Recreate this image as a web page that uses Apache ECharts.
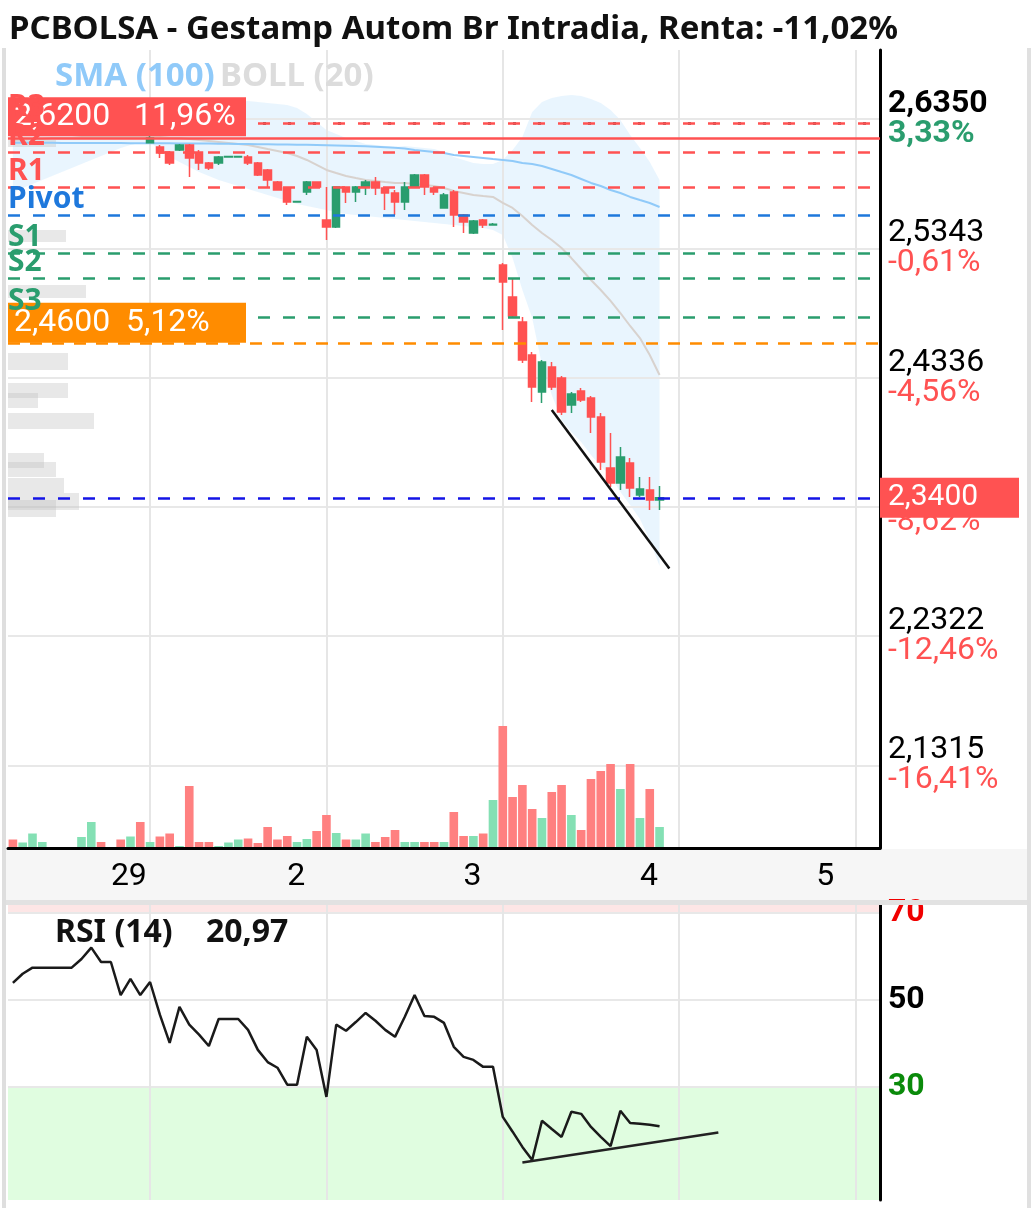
<!DOCTYPE html>
<html><head><meta charset="utf-8">
<script src="https://cdn.jsdelivr.net/npm/echarts@6/dist/echarts.min.js"></script>
<style>html,body{margin:0;padding:0;background:#fff}#c{width:1034px;height:1208px}</style>
</head><body><div id="c"></div>
<script>
// ---------- DATA ----------
const days = ['28','29','2','3','4','5'];
const sessionTimes = ['09:00','09:30','10:00','10:30','11:00','11:30','12:00','12:30','13:00','13:30','14:00','14:30','15:00','15:30','16:00','16:30','17:00','17:30'];
const firstVisibleSession = 4;   // first slot of day '28' shown
const lastDaySlotsShown = 3;     // slots of day '5' shown

// candles: [open, close, low, high]
const candles = [
 [2.628,2.626,2.625,2.629],[2.626,2.627,2.6255,2.628],[2.627,2.629,2.626,2.630],[2.629,2.6295,2.628,2.630],
 [2.6295,2.6295,2.6295,2.6295],[2.6295,2.6295,2.6295,2.6295],[2.6295,2.6295,2.6295,2.6295],
 [2.6295,2.6305,2.629,2.631],[2.6305,2.632,2.630,2.633],[2.632,2.6305,2.630,2.632],[2.6305,2.6305,2.6305,2.6305],
 [2.6305,2.6255,2.625,2.631],[2.6255,2.6275,2.625,2.628],[2.6275,2.6228,2.6225,2.628],
 [2.6165,2.6202,2.6160,2.6218],[2.6132,2.6085,2.6046,2.6147],[2.6093,2.6007,2.5992,2.6101],[2.6109,2.6147,2.6101,2.6155],
 [2.6147,2.6046,2.5898,2.6155],[2.6093,2.6007,2.5953,2.6109],[2.6007,2.5968,2.5953,2.6015],[2.6007,2.6054,2.5992,2.6062],
 [2.6054,2.6058,2.6050,2.6062],[2.6054,2.6058,2.6050,2.6062],[2.6054,2.6007,2.5992,2.6070],[2.6007,2.5914,2.5906,2.6015],
 [2.5953,2.5875,2.5813,2.5960],[2.5859,2.5797,2.5797,2.5867],[2.5813,2.5704,2.5680,2.5820],[2.5704,2.5708,2.5700,2.5712],
 [2.5781,2.5859,2.5758,2.5867],[2.5859,2.5820,2.5813,2.5859],
 [2.5563,2.5509,2.5408,2.5820],[2.5509,2.5820,2.5501,2.5820],[2.5820,2.5781,2.5696,2.5820],[2.5781,2.5820,2.5704,2.5828],
 [2.5820,2.5859,2.5758,2.5875],[2.5859,2.5813,2.5758,2.5898],[2.5813,2.5774,2.5641,2.5820],[2.5774,2.5704,2.5602,2.5797],
 [2.5704,2.5820,2.5641,2.5859],[2.5820,2.5914,2.5813,2.5922],[2.5914,2.5820,2.5758,2.5922],[2.5813,2.5781,2.5758,2.5820],
 [2.5657,2.5758,2.5657,2.5774],[2.5781,2.5602,2.5509,2.5797],[2.5602,2.5548,2.5462,2.5610],[2.5462,2.5555,2.5454,2.5563],
 [2.5563,2.5525,2.5501,2.5571],[2.5525,2.5530,2.5520,2.5540],
 [2.5213,2.5080,2.4707,2.5229],[2.4963,2.4816,2.4800,2.5112],[2.4769,2.4473,2.4450,2.4808],[2.4512,2.4263,2.4146,2.4535],
 [2.4224,2.4457,2.4138,2.4473],[2.4419,2.4263,2.4240,2.4457],[2.4333,2.4068,2.4045,2.4348],[2.4123,2.4208,2.4060,2.4224],
 [2.4232,2.4161,2.4146,2.4255],[2.4177,2.4029,2.3904,2.4193],[2.4029,2.3679,2.3617,2.4060],[2.3632,2.3515,2.3484,2.3904],
 [2.3515,2.3718,2.3461,2.3795],[2.3671,2.3476,2.3406,2.3710],[2.3422,2.3468,2.3406,2.3562],[2.3461,2.3383,2.3305,2.3562],
 [2.3383,2.3400,2.3305,2.3492]
];
// volume, thousand shares
const volumes = [15,9,27,10,0,0,0,20,50,10,0,15,21,50,10,21,27,2,122,10,10,2,9,15,17,8,40,15,22,10,16,32,
 64,28,15,15,27,10,20,34,10,10,10,10,10,70,22,22,27,94,
 242,100,124,76,58,110,124,64,34,136,152,166,116,166,58,116,40];
const sma100 = [2.6166,2.6166,2.6165,2.6165,2.6165,2.6164,2.6164,2.6164,2.6163,2.6163,
 2.6163,2.6163,2.6162,2.6162,2.6162,2.6161,2.6161,2.6160,2.6160,2.6159,
 2.6159,2.6158,2.6157,2.6156,2.6155,2.6154,2.6153,2.6152,2.6151,2.6150,
 2.6149,2.6148,2.6146,2.6144,2.6142,2.6140,2.6137,2.6134,2.6130,2.6126,
 2.6121,2.6109,2.6101,2.6093,2.6085,2.6070,2.6062,2.6054,2.6046,2.6038,
 2.6031,2.6023,2.6007,2.5999,2.5984,2.5961,2.5937,2.5914,2.5883,2.5852,
 2.5828,2.5797,2.5774,2.5743,2.5719,2.5696,2.5665];
const bollUp = [2.6521,2.6514,2.6506,2.6498,2.6490,2.6467,2.6436,2.6420,2.6389,2.6358,
 2.6327,2.6296,2.6272,2.6257,2.6249,2.6311,2.6350,2.6389,2.6412,2.6436,
 2.6451,2.6467,2.6475,2.6482,2.6490,2.6482,2.6475,2.6467,2.6459,2.6436,
 2.6389,2.6327,2.6264,2.6233,2.6202,2.6179,2.6155,2.6148,2.6140,2.6132,
 2.6140,2.6132,2.6124,2.6116,2.6093,2.6054,2.6031,2.6007,2.5999,2.5999,
 2.6031,2.6109,2.6210,2.6405,2.6482,2.6514,2.6529,2.6537,2.6529,2.6506,
 2.6475,2.6420,2.6342,2.6225,2.6124,2.6015,2.5875];
const bollMid = [2.6186,2.6186,2.6194,2.6194,2.6202,2.6202,2.6202,2.6210,2.6210,2.6210,
 2.6210,2.6210,2.6210,2.6210,2.6210,2.6210,2.6202,2.6202,2.6194,2.6186,
 2.6179,2.6171,2.6163,2.6155,2.6148,2.6132,2.6116,2.6101,2.6085,2.6062,
 2.6031,2.5992,2.5953,2.5929,2.5906,2.5890,2.5875,2.5867,2.5859,2.5852,
 2.5852,2.5844,2.5836,2.5828,2.5813,2.5789,2.5774,2.5758,2.5750,2.5743,
 2.5696,2.5657,2.5595,2.5524,2.5462,2.5408,2.5345,2.5267,2.5182,2.5096,
 2.5018,2.4933,2.4839,2.4738,2.4644,2.4512,2.4356];
const bollLow = [2.5774,2.5813,2.5844,2.5875,2.5906,2.5937,2.5968,2.5999,2.6031,2.6062,
 2.6093,2.6124,2.6148,2.6163,2.6171,2.6109,2.6054,2.6015,2.5976,2.5937,
 2.5906,2.5875,2.5852,2.5828,2.5805,2.5781,2.5758,2.5735,2.5711,2.5688,
 2.5672,2.5657,2.5641,2.5626,2.5610,2.5602,2.5595,2.5587,2.5579,2.5571,
 2.5563,2.5556,2.5548,2.5540,2.5532,2.5524,2.5517,2.5509,2.5501,2.5486,
 2.5447,2.5267,2.5018,2.4800,2.4434,2.4200,2.4006,2.3912,2.3834,2.3733,
 2.3648,2.3570,2.3445,2.3344,2.3235,2.3071,2.2869];
const rsi = [53.9,56.0,57.4,57.4,57.4,57.4,57.4,59.4,62.0,58.7,
 58.7,51.1,54.8,51.1,54.1,46.6,40.1,48.4,44.3,42.0,
 39.4,45.6,45.6,45.6,43.1,38.5,35.7,34.4,30.5,30.5,
 41.5,38.5,27.7,44.3,42.9,44.9,47.0,45.2,43.1,41.5,
 46.1,51.1,46.3,46.1,44.7,39.2,36.9,36.2,34.6,34.6,
 23.1,19.7,16.2,13.2,22.2,20.3,18.5,24.3,23.8,20.8,
 18.5,16.4,24.5,21.7,21.5,21.3,20.97];

const priceTicks = [2.1315,2.2322,2.3329,2.4336,2.5343,2.6350];
const priceTickLabels = ['2,1315','2,2322','2,3329','2,4336','2,5343','2,6350'];
const pctTickLabels = ['-16,41%','-12,46%','-8,62%','-4,56%','-0,61%','3,33%'];
const rsiTicks = [30,50,70];

const pivotNames = ['R3','R2','R1','Pivot','S1','S2','S3'];
const pivotValues = [2.6315,2.6093,2.5820,2.5602,2.5306,2.5112,2.4808];
const highLine = 2.6315;
const alertPrices = [2.6200,2.4600];
const alertLabels = ['2,6200   11,96%','2,4600  5,12%'];
const lastPrice = 2.3400, lastPriceLabel = '2,3400';
const rsiLast = 20.971, rsiLastLabel = '20,971';
const rsiTitle = 'RSI (14)    20,97';
const title = 'PCBOLSA - Gestamp Autom Br Intradia, Renta: -11,02%';

// volume-by-price profile
const profileLow  = [2.6132,2.5392,2.4956,2.4395,2.4177,2.4099,2.3936,2.3632,2.3562,2.3437,2.3305,2.3250];
const profileHigh = [2.6186,2.5486,2.5057,2.4528,2.4294,2.4216,2.4060,2.3749,2.3679,2.3554,2.3437,2.3383];
const profileVol  = [48,58,78,60,60,30,86,36,48,56,71,48];

// drawn trendlines: [category, value]
const priceTrend = [['3 11:30',2.4084],['3 17:30',2.2850]];
const rsiTrend = [['3 10:00',12.6],['4 11:00',19.5]];

// ---------- BUILD ----------
const cats = [];
days.forEach((d, di) => sessionTimes.forEach((t, ti) => {
  if (di === 0 && ti < firstVisibleSession) return;
  if (di === days.length - 1 && ti >= lastDaySlotsShown) return;
  cats.push(d + ' ' + t);
}));
const N = cats.length;
const dayOpenIdx = [], dayOpenName = [];
cats.forEach((c, i) => { if (c.endsWith(' 09:00')) { dayOpenIdx.push(i); dayOpenName.push(c.split(' ')[0]); } });
const labelShift = 4;
const labelIdx = dayOpenIdx.map(i => i - labelShift);

const RED = '#ff5252', GREEN = '#2a9d6e';
const volData = volumes.map((v, i) => ({
  value: v,
  itemStyle: { color: candles[i][1] >= candles[i][0] ? '#84e0b4' : '#ff8080' }
}));
const bbWidth = bollUp.map((u, i) => +(u - bollLow[i]).toFixed(4));

const G = { left: 8, right: 154 };
const pMin = 2.06724, pMax = 2.68874;

const lvlStyle = (c) => ({ color: c, type: [12, 13], width: 2.5 });
const levelLines = [];
levelLines.push({ yAxis: highLine, lineStyle: { color: '#222', type: [3, 22], dashOffset: -5, width: 2.5 }, label: { show: false } });
// alerts
levelLines.push({ yAxis: alertPrices[0], name: alertLabels[0], lineStyle: { color: RED, type: 'solid', width: 2.5 },
  label: { show: true, position: 'insideStartTop', distance: [0, 2], formatter: '{b}', color: '#fff', backgroundColor: RED,
    fontFamily: 'Roboto', fontSize: 32, lineHeight: 31, padding: [4, 8, 4, 6], width: 224 } });
levelLines.push({ yAxis: alertPrices[1], name: alertLabels[1], lineStyle: { color: '#ff8c00', type: [12, 10], width: 2.5 },
  label: { show: true, position: 'insideStartTop', distance: [0, 1], formatter: '{b}', color: '#fff', backgroundColor: '#ff8c00',
    fontFamily: 'Roboto', fontSize: 32, lineHeight: 31, padding: [5, 8, 4, 6], width: 224 } });
// pivots
pivotNames.forEach((n, i) => {
  const c = n[0] === 'R' ? RED : (n[0] === 'S' ? GREEN : '#1e78dc');
  levelLines.push({ yAxis: pivotValues[i], name: n, lineStyle: lvlStyle(c),
    label: { show: true, position: 'insideStartTop', distance: [0, 1], formatter: '{b}', color: c,
      fontFamily: 'Noto Sans', fontWeight: 'bold', fontSize: 30, lineHeight: 30, padding: 0 } });
});
// last price
levelLines.push({ yAxis: lastPrice, name: lastPriceLabel, lineStyle: { color: '#1414e6', type: [12, 13], width: 2.5 },
  label: { show: true, position: 'end', distance: 0, formatter: '{b}', color: '#fff', backgroundColor: RED,
    fontFamily: 'Roboto', fontSize: 30, lineHeight: 32, padding: [4, 8, 4, 8], width: 123, align: 'left' } });
// trendline
levelLines.push([{ coord: priceTrend[0] }, { coord: priceTrend[1], lineStyle: { color: '#111', type: 'solid', width: 2.5 }, label: { show: false } }]);

const option = {
  animation: false,
  backgroundColor: '#fff',
  title: [
    { text: title, left: 9, top: 11, padding: 0, textStyle: { fontFamily: 'Noto Sans', fontWeight: 'bold', fontSize: 33, color: '#111', lineHeight: 38 } },
    { text: 'SMA (100)', left: 55, top: 58, padding: 0, textStyle: { fontFamily: 'Noto Sans', fontWeight: 'bold', fontSize: 33, color: '#90caf9', lineHeight: 38 } },
    { text: 'BOLL (20)', left: 220, top: 58, padding: 0, textStyle: { fontFamily: 'Noto Sans', fontWeight: 'bold', fontSize: 33, color: '#dcdcdc', lineHeight: 38 } },
    { text: rsiTitle, left: 55, top: 914, padding: 0, textStyle: { fontFamily: 'Noto Sans', fontWeight: 'bold', fontSize: 32, color: '#111', lineHeight: 38 } }
  ],
  graphic: [
    { type: 'rect', z: -10, shape: { x: 6, y: 849, width: 1021, height: 52 }, style: { fill: '#f6f6f6' } },
    { type: 'rect', z: 100, shape: { x: 4, y: 900, width: 1026, height: 5 }, style: { fill: '#e2e2e2' } },
    { type: 'rect', z: 100, shape: { x: 2, y: 48, width: 4, height: 1160 }, style: { fill: '#dedede' } },
    { type: 'rect', z: 100, shape: { x: 1027, y: 48, width: 4, height: 1160 }, style: { fill: '#e0e0e0' } }
  ],
  grid: [
    { left: G.left, right: G.right, top: 50, bottom: 360 },
    { left: G.left, right: G.right, top: 700, bottom: 361 },
    { left: G.left, right: G.right, top: 905, bottom: 8 },
    { left: G.left, right: G.right, top: 50, bottom: 360 }
  ],
  xAxis: [
    { type: 'category', gridIndex: 0, data: cats, show: false, boundaryGap: true },
    { type: 'value', gridIndex: 0, min: -0.5, max: N - 0.5, position: 'bottom',
      axisLine: { show: true, onZero: false, lineStyle: { color: '#000', width: 3 } },
      axisTick: { show: false, customValues: dayOpenIdx },
      splitLine: { show: true, lineStyle: { color: '#e6e6e6', width: 2 } },
      axisLabel: { show: true, customValues: labelIdx, align: 'left', margin: 13, color: '#000', fontFamily: 'Roboto', fontSize: 32,
        formatter: (v) => { const k = labelIdx.indexOf(Math.round(v)); return k >= 0 ? dayOpenName[k] : ''; } } },
    { type: 'category', gridIndex: 1, data: cats, show: false, boundaryGap: true },
    { type: 'category', gridIndex: 2, data: cats, show: false, boundaryGap: true },
    { type: 'value', gridIndex: 2, min: -0.5, max: N - 0.5, position: 'bottom',
      axisLine: { show: false, onZero: false }, axisLabel: { show: false },
      axisTick: { show: false, customValues: dayOpenIdx },
      splitLine: { show: true, lineStyle: { color: '#e6e6e6', width: 2 } } },
    { type: 'value', gridIndex: 3, min: 0, max: 872, show: false }
  ],
  yAxis: [
    { type: 'value', gridIndex: 0, position: 'right', min: pMin, max: pMax,
      axisLine: { show: true, onZero: false, lineStyle: { color: '#000', width: 3 } },
      axisTick: { show: false, customValues: priceTicks },
      splitLine: { show: true, lineStyle: { color: '#e8e8e8', width: 2 } },
      axisLabel: { show: true, customValues: priceTicks, margin: 8, align: 'left',
        formatter: (v) => {
          let k = priceTicks.findIndex(t => Math.abs(t - v) < 1e-6);
          if (k < 0) return '';
          const top = k === priceTicks.length - 1;
          return top ? `{vb|${priceTickLabels[k]}}\n{pb|${pctTickLabels[k]}}` : `{v|${priceTickLabels[k]}}\n{p|${pctTickLabels[k]}}`;
        },
        rich: {
          v: { fontFamily: 'Roboto', fontSize: 32, color: '#000', lineHeight: 30 },
          p: { fontFamily: 'Roboto', fontSize: 32, color: RED, lineHeight: 30 },
          vb: { fontFamily: 'Roboto', fontSize: 32, fontWeight: 'bold', color: '#000', lineHeight: 30 },
          pb: { fontFamily: 'Roboto', fontSize: 32, fontWeight: 'bold', color: GREEN, lineHeight: 30 }
        } } },
    { type: 'value', gridIndex: 1, min: 0, max: 294, show: false, axisLine: { onZero: false } },
    { type: 'value', gridIndex: 2, position: 'right', min: 4, max: 71.8,
      axisLine: { show: true, onZero: false, lineStyle: { color: '#000', width: 3 } },
      axisTick: { show: false, customValues: rsiTicks },
      splitLine: { show: true, lineStyle: { color: '#e8e8e8', width: 2 } },
      axisLabel: { show: true, customValues: rsiTicks, margin: 8, align: 'left', fontFamily: 'Roboto', fontSize: 32, fontWeight: 'bold',
        formatter: (v) => v === 70 ? `{r|${v}}` : (v === 30 ? `{g|${v}}` : `{b|${v}}`),
        rich: { r: { color: '#f00000', fontSize: 32, fontWeight: 'bold', fontFamily: 'Roboto' },
                g: { color: '#0a8a0a', fontSize: 32, fontWeight: 'bold', fontFamily: 'Roboto' },
                b: { color: '#000', fontSize: 32, fontWeight: 'bold', fontFamily: 'Roboto' } } } },
    { type: 'value', gridIndex: 3, min: pMin, max: pMax, show: false, axisLine: { onZero: false } }
  ],
  series: [
    { name: 'bbLow', type: 'line', xAxisIndex: 0, yAxisIndex: 0, data: bollLow, stack: 'bb', showSymbol: false, symbol: 'none',
      lineStyle: { opacity: 0 }, z: -1, silent: true },
    { name: 'bbBand', type: 'line', xAxisIndex: 0, yAxisIndex: 0, data: bbWidth, stack: 'bb', showSymbol: false, symbol: 'none',
      lineStyle: { opacity: 0 }, areaStyle: { color: 'rgba(144,202,249,0.28)' }, z: -1, silent: true },
    { name: 'BOLL', type: 'line', xAxisIndex: 0, yAxisIndex: 0, data: bollMid, showSymbol: false, symbol: 'none',
      lineStyle: { color: '#d8d2ce', width: 2 }, z: 1, silent: true },
    { name: 'SMA100', type: 'line', xAxisIndex: 0, yAxisIndex: 0, data: sma100, showSymbol: false, symbol: 'none',
      lineStyle: { color: '#90caf9', width: 2 }, z: 1, silent: true },
    { name: 'profile', type: 'custom', xAxisIndex: 5, yAxisIndex: 3, z: 1, silent: true,
      data: profileVol.map((v, i) => [v, profileLow[i], profileHigh[i]]),
      encode: { x: 0, y: [1, 2] },
      renderItem: (params, api) => {
        const p1 = api.coord([0, api.value(2)]);
        const p2 = api.coord([api.value(0), api.value(1)]);
        return { type: 'rect', shape: { x: p1[0], y: p1[1], width: p2[0] - p1[0], height: p2[1] - p1[1] },
          style: { fill: 'rgba(190,190,190,0.35)' } };
      } },
    { name: 'price', type: 'candlestick', xAxisIndex: 0, yAxisIndex: 0, data: candles, barWidth: 8, z: 3,
      itemStyle: { color: GREEN, color0: RED, borderColor: GREEN, borderColor0: RED, borderWidth: 1.5 },
      markLine: { silent: true, symbol: ['none', 'none'], precision: 4, data: levelLines } },
    { name: 'vol', type: 'bar', xAxisIndex: 2, yAxisIndex: 1, data: volData, barWidth: '88%', z: 2 },
    { name: 'RSI', type: 'line', xAxisIndex: 3, yAxisIndex: 2, data: rsi, showSymbol: false, symbol: 'none',
      lineStyle: { color: '#1a1a1a', width: 2.5 }, z: 3, silent: true,
      markArea: { silent: true, z: -1, data: [
        [{ yAxis: 70, itemStyle: { color: '#fde6e6' } }, { yAxis: 71.8 }],
        [{ yAxis: 4, itemStyle: { color: '#e0fde0' } }, { yAxis: 30 }]
      ] },
      markLine: { silent: true, symbol: ['none', 'none'], precision: 3, data: [
        { yAxis: rsiLast, name: rsiLastLabel, lineStyle: { opacity: 0 },
          label: { show: true, position: 'end', distance: 0, formatter: '{b}', color: '#fff', backgroundColor: '#000',
            fontFamily: 'Roboto', fontSize: 30, lineHeight: 32, padding: [5, 8, 5, 8], width: 119, align: 'left' } },
        [{ coord: rsiTrend[0] }, { coord: rsiTrend[1], lineStyle: { color: '#222', type: 'solid', width: 2.5 }, label: { show: false } }]
      ] } }
  ]
};
const chart = echarts.init(document.getElementById('c'), null, { renderer: 'canvas' });
chart.setOption(option);
</script>
</body></html>
